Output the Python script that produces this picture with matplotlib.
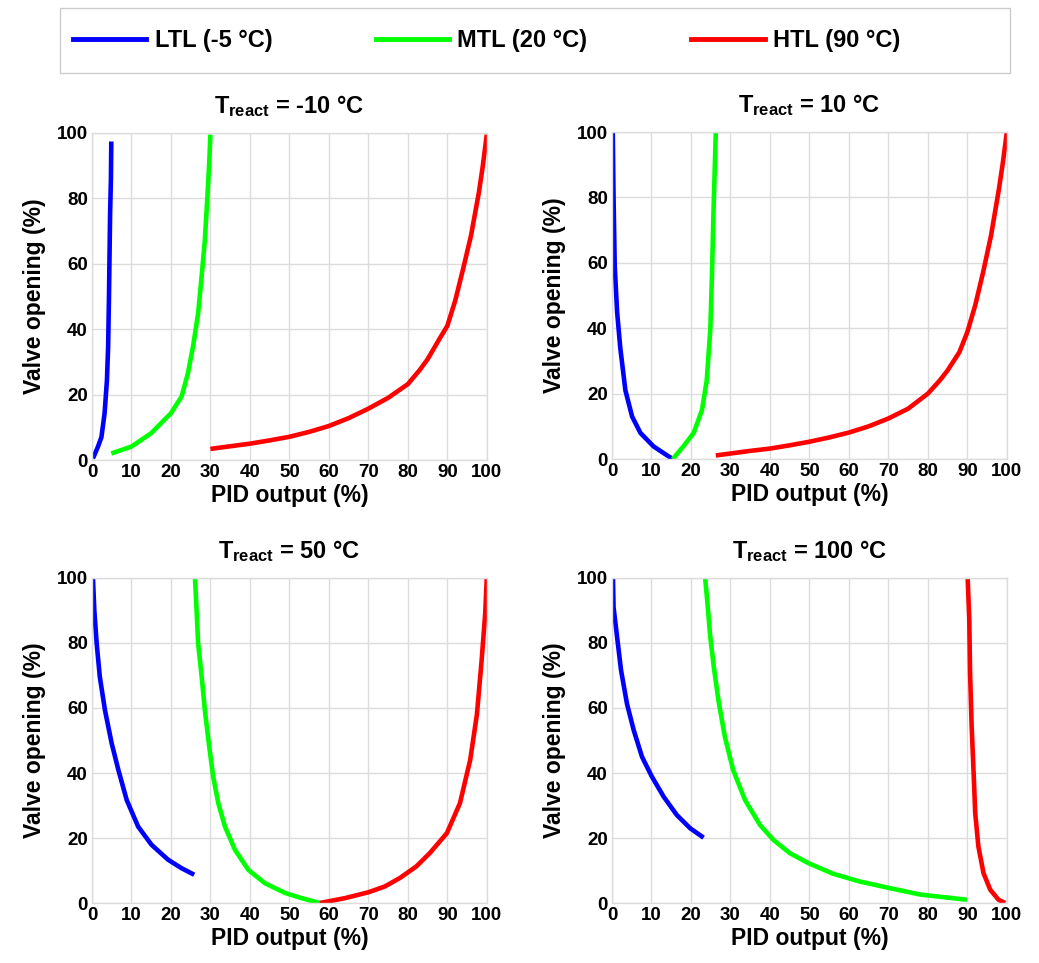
import matplotlib
matplotlib.use("Agg")
import matplotlib.pyplot as plt
from matplotlib.lines import Line2D
from matplotlib.patches import Rectangle

# --- data (PID output %, valve opening %) ---
titles = ["-10", "10", "50", "100"]
series_labels = ["LTL (-5 °C)", "MTL (20 °C)", "HTL (90 °C)"]
series_colors = ["#0000ff", "#00ff00", "#ff0000"]

# T_react = -10 °C
ltl_a_x = [0.25, 1.5, 2.4, 3.2, 3.8, 4.1, 4.3, 4.6, 4.8, 4.9]
ltl_a_y = [0.5, 4, 7, 14.3, 24.5, 34.7, 49, 75.5, 85.7, 97.4]
mtl_a_x = [4.9, 10, 15, 20, 22.7, 24.3, 25.6, 26.9, 27.7, 28.6, 29.2, 29.7, 30]
mtl_a_y = [2, 4.1, 8.2, 14.3, 19.4, 26.5, 34.7, 44.9, 55.1, 67.3, 79.6, 90.8, 99.5]
htl_a_x = [30, 35, 40, 45, 50, 55, 60, 65, 70, 75, 80, 83, 85, 88, 90, 92, 94, 96, 98, 99, 100]
htl_a_y = [3.4, 4.2, 5, 6, 7.1, 8.6, 10.4, 12.8, 15.7, 19, 23.2, 27.5, 30.8, 37, 41, 48.7, 58.4, 68.6, 81.8, 90, 99.5]

# T_react = 10 °C
ltl_b_x = [0.2, 0.4, 0.7, 1.3, 2.1, 3.4, 5.1, 7.2, 10.5, 13.1, 15.4]
ltl_b_y = [100, 80, 59, 45, 34, 21, 13, 8, 3.9, 1.8, 0]
mtl_b_x = [15.4, 18.1, 20.7, 22.8, 24, 24.9, 25.3, 25.7, 26.3]
mtl_b_y = [0, 3.9, 8, 15, 24, 39.5, 55, 75, 100]
htl_b_x = [26.3, 35, 40, 45, 50, 55, 60, 65, 70, 75, 80, 83, 85, 88, 90, 92, 94, 96, 98, 99, 100]
htl_b_y = [1.1, 2.5, 3.2, 4.2, 5.3, 6.6, 8.1, 10, 12.4, 15.4, 20, 24, 27.1, 32.7, 38.8, 47, 57.1, 68.3, 82.5, 90.6, 99.8]

# T_react = 50 °C
ltl_c_x = [0.25, 0.6, 1.2, 2, 3.3, 5, 6.7, 8.8, 11.7, 15.1, 19.3, 22.7, 25.9]
ltl_c_y = [100, 90, 79.8, 69.5, 59.3, 49.1, 40.9, 31.7, 23.5, 17.9, 13.3, 10.7, 8.7]
mtl_c_x = [26.1, 26.5, 26.9, 27.8, 28.6, 29.6, 30.7, 32, 33.7, 36.2, 39.6, 43.8, 48.9, 53.1, 57.7]
mtl_c_y = [100, 90, 79.8, 69.5, 59.3, 49.1, 38.9, 30.7, 23.5, 16.4, 10.2, 6.1, 3.1, 1.5, 0]
htl_c_x = [57.7, 64.1, 70, 74.2, 78, 82.2, 85.6, 89.9, 93.2, 95.8, 97.5, 98.7, 99.6, 100]
htl_c_y = [0, 1.5, 3.3, 5.1, 7.7, 11.3, 15.4, 21.5, 30.7, 44, 58, 74.7, 89, 100]

# T_react = 100 °C
ltl_d_x = [0.25, 0.4, 1.3, 2.3, 3.8, 5.5, 7.6, 10.1, 13.1, 16.4, 19.8, 23.2]
ltl_d_y = [100, 91, 81.8, 71.6, 61.3, 53.2, 45, 38.9, 32.7, 27.1, 23, 20.1]
mtl_d_x = [23.6, 24.2, 24.9, 25.9, 27.1, 28.6, 30.7, 33.7, 37.5, 40.9, 45.1, 49.7, 56,
           62.8, 70.3, 78.1, 84, 89.9]
mtl_d_y = [100, 92, 81.8, 71.6, 61.3, 51.1, 40.9, 31.7, 24, 19.4, 15.3, 12.3, 9,
           6.6, 4.6, 2.6, 1.8, 1]
htl_d_x = [90.1, 90.5, 90.7, 91.1, 91.6, 92, 92.8, 94.1, 95.8, 97.9, 99.6]
htl_d_y = [99.7, 87.2, 70.8, 54.4, 40, 27.7, 17.4, 9.2, 4.1, 1, 0]

panels = [
    [(ltl_a_x, ltl_a_y), (mtl_a_x, mtl_a_y), (htl_a_x, htl_a_y)],
    [(ltl_b_x, ltl_b_y), (mtl_b_x, mtl_b_y), (htl_b_x, htl_b_y)],
    [(ltl_c_x, ltl_c_y), (mtl_c_x, mtl_c_y), (htl_c_x, htl_c_y)],
    [(ltl_d_x, ltl_d_y), (mtl_d_x, mtl_d_y), (htl_d_x, htl_d_y)],
]

plt.rcParams["font.family"] = ["Liberation Sans", "DejaVu Sans"]
plt.rcParams["font.weight"] = "bold"
plt.rcParams["mathtext.fontset"] = "custom"
plt.rcParams["mathtext.rm"] = "Liberation Sans:bold"
plt.rcParams["mathtext.it"] = "Liberation Sans:bold"
plt.rcParams["mathtext.bf"] = "Liberation Sans:bold"

fig = plt.figure(figsize=(10.39, 9.63), dpi=100)

grid_col = "#dcdcdc"
rects = [
    [0.0885, 0.5223, 0.380, 0.3396],
    [0.589, 0.5233, 0.380, 0.3396],
    [0.0885, 0.0623, 0.380, 0.3375],
    [0.589, 0.0623, 0.380, 0.3375],
]

for rect, title, curves in zip(rects, titles, panels):
    ax = fig.add_axes(rect)
    for (x, y), col in zip(curves, series_colors):
        ax.plot(x, y, color=col, lw=3.3, solid_capstyle="butt", solid_joinstyle="round")
    ax.set_xlim(0, 100)
    ax.set_ylim(0, 100)
    ax.set_xticks(range(0, 101, 10))
    ax.set_yticks(range(0, 101, 20))
    ax.grid(True, color=grid_col, lw=1)
    ax.set_axisbelow(True)
    for s in ax.spines.values():
        s.set_color(grid_col)
        s.set_linewidth(1)
    ax.tick_params(length=0, labelsize=13.5, pad=3)
    ax.set_xlabel("PID output (%)", fontsize=16.5, fontweight="bold", labelpad=2)
    ax.set_ylabel("Valve opening (%)", fontsize=16.5, fontweight="bold", labelpad=8)
    ax.set_title(r"$T_{react}$ = " + title + " °C", fontsize=17, fontweight="bold", pad=14)

# legend frame spanning the top of the figure
fig.patches.append(Rectangle((0.0577, 0.9242), 0.9143, 0.0675, transform=fig.transFigure,
                             facecolor="white", edgecolor="#cccccc", lw=1, zorder=0))
handles = [Line2D([], [], color=c, lw=3.5) for c in series_colors]
fig.legend(handles, series_labels, loc="center left", ncol=3,
           bbox_to_anchor=(0.0703, 0.958), borderaxespad=0, borderpad=0,
           fontsize=17, handlelength=3.1, handletextpad=0.35, columnspacing=4.4,
           frameon=False)

fig.savefig("out.png", dpi=100)
